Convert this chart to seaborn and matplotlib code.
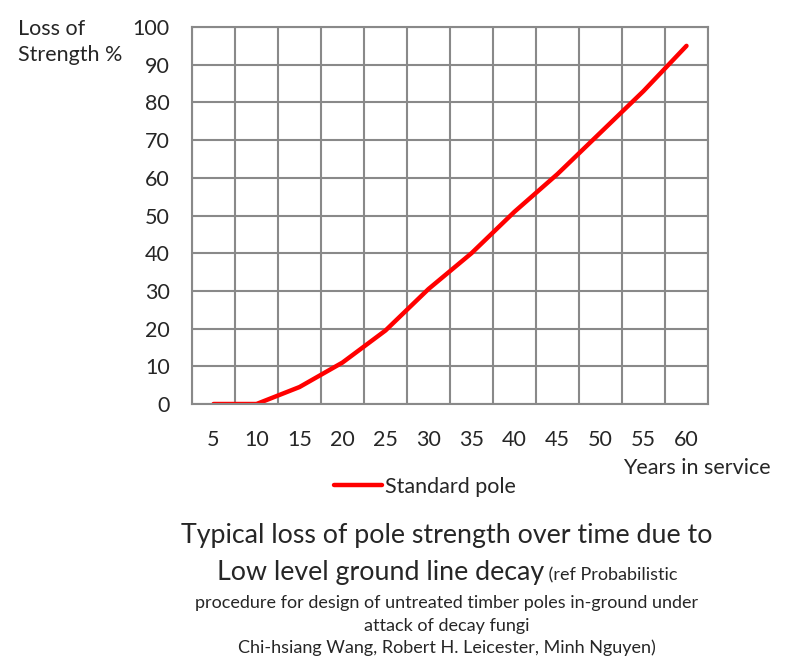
import numpy as np
import pandas as pd
import seaborn as sns
import matplotlib.pyplot as plt

# --------------------- data --------------------- #
years = [5, 10, 15, 20, 25, 30, 35, 40, 45, 50, 55, 60]
loss_pct = [0, 0, 4.5, 11, 19.5, 30.5, 40, 51, 61, 72, 83, 95]
series_name = 'Standard pole'
y_ticks = [0, 10, 20, 30, 40, 50, 60, 70, 80, 90, 100]

title_big = 'Typical loss of pole strength over time due to'
title_big2 = 'Low level ground line decay'
title_small2 = ' (ref Probabilistic'
ref_lines = ['procedure for design of untreated timber poles in-ground under',
             'attack of decay fungi',
             'Chi-hsiang Wang, Robert H. Leicester, Minh Nguyen)']

df = pd.DataFrame({'years': years, 'loss': loss_pct, 'series': series_name})

# --------------------- plot --------------------- #
sns.set_style('white')
plt.rcParams['font.family'] = ['Lato', 'DejaVu Sans']
grid_col = '#898989'
fs = 15.5

fig = plt.figure(figsize=(8.1, 6.68), dpi=100)
ax = fig.add_axes([192 / 810, 1 - 404 / 668, 516 / 810, 377 / 668])

sns.lineplot(data=df, x='years', y='loss', hue='series', palette=['#ff0000'],
             linewidth=3.2, ax=ax, legend=True)

ax.set_xlim(2.5, 62.5)
ax.set_ylim(0, 100)
ax.set_xticks(years)
ax.set_xticks(np.arange(2.5, 63, 5), minor=True)
ax.set_yticks(y_ticks)
ax.grid(True, which='minor', axis='x', color=grid_col, linewidth=1.5)
ax.grid(True, which='major', axis='y', color=grid_col, linewidth=1.5)
ax.set_axisbelow(True)
for sp in ax.spines.values():
    sp.set_color(grid_col)
    sp.set_linewidth(1.5)
ax.tick_params(which='both', length=0)
ax.tick_params(axis='y', pad=16, labelsize=fs)
ax.tick_params(axis='x', pad=19, labelsize=fs)
ax.set_xlabel('')
ax.set_ylabel('')

ax.legend(loc='center left', bbox_to_anchor=(334 / 810, 1 - 487 / 668),
          bbox_transform=fig.transFigure, frameon=False, fontsize=fs,
          handlelength=2.25, handletextpad=0.12, borderpad=0, borderaxespad=0)

fig.text(18 / 810, 1 - 19 / 668, 'Loss of\nStrength %', ha='left', va='top',
         fontsize=fs, linespacing=1.4)
fig.text(771 / 810, 1 - 468 / 668, 'Years in service', ha='right', va='center',
         fontsize=fs)

# title block
fig.text(447 / 810, 1 - 535 / 668, title_big, ha='center', va='center', fontsize=19.3)

fig.canvas.draw()
r = fig.canvas.get_renderer()
t1 = fig.text(0, 1 - 580 / 668, title_big2, ha='left', va='baseline', fontsize=19.3)
t2 = fig.text(0, 1 - 580 / 668, title_small2, ha='left', va='baseline', fontsize=13)
w1 = t1.get_window_extent(r).width
w2 = t2.get_window_extent(r).width
x0 = 447 - (w1 + w2) / 2
t1.set_x(x0 / 810)
t2.set_x((x0 + w1) / 810)

for i, line in enumerate(ref_lines):
    fig.text(447 / 810, 1 - (603 + 22.5 * i) / 668, line, ha='center', va='center',
             fontsize=13)

fig.savefig('out.png', dpi=100)
